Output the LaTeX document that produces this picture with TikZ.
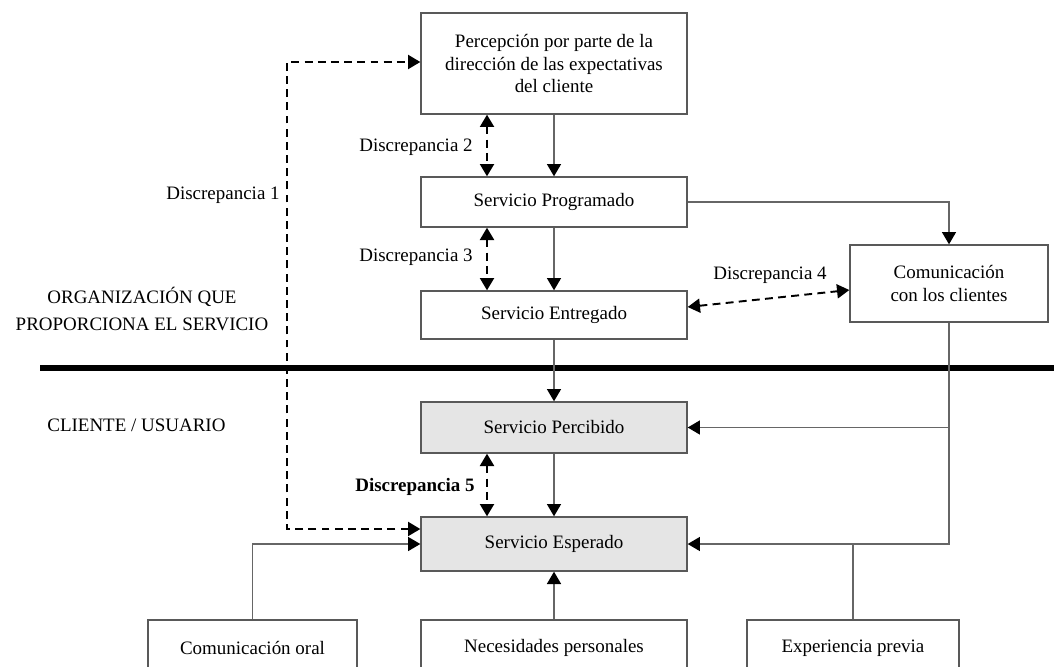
\documentclass[tikz,border=0pt]{standalone}
\usepackage{fontspec}
\setmainfont{Liberation Serif}
\usetikzlibrary{arrows.meta}
\begin{document}
\begin{tikzpicture}[x=0.02cm,y=-0.02cm,>={Triangle[width=8pt,length=7pt,color=black]},
	caja/.style={draw=black!65,line width=.8pt,inner sep=0pt,align=center,
		font=\fontsize{10.8}{12.8}\selectfont,minimum width=5.32cm},
	cliente/.style={caja,fill=black!10},
	conn/.style={draw=black!60,line width=.8pt},
	disc/.style={black,line width=1.1pt,dash pattern=on 4.5pt off 3pt},
	rotulo/.style={font=\fontsize{10.8}{12.8}\selectfont,inner sep=0pt}]
	\useasboundingbox (0,0) rectangle (1054,666);
	% organizacion
	\node[caja,minimum height=2.02cm] (perc) at (554,63.5)
		{Percepción por parte de la\\dirección de las expectativas\\del cliente};
	\node[caja,minimum height=1cm] (prog) at (554,202) {Servicio Programado};
	\node[caja,minimum height=.96cm] (entr) at (554,315) {Servicio Entregado};
	\node[caja,minimum width=3.96cm,minimum height=1.54cm] (com) at (949,283.5)
		{Comunicación\\con los clientes};
	% cliente
	\node[cliente,minimum height=1.02cm] (perci) at (554,427.5) {Servicio Percibido};
	\node[cliente,minimum height=1.08cm] (esper) at (554,544) {Servicio Esperado};
	\node[caja,minimum width=4.18cm,minimum height=1.12cm] (oral) at (252.5,648) {Comunicación oral};
	\node[caja,minimum height=1.12cm] (neces) at (554,648) {Necesidades personales};
	\node[caja,minimum width=4.24cm,minimum height=1.12cm] (exper) at (853,648) {Experiencia previa};
	% rotulos
	\path[rotulo]
	(142,309) node[align=center,font=\fontsize{10.8}{15.9}\selectfont] (org)
		{ORGANIZACIÓN QUE\\PROPORCIONA EL SERVICIO}
	(47,425) node[anchor=west] (usu) {CLIENTE / USUARIO}
	(280,195) node[anchor=east] (d1) {Discrepancia 1}
	(473,147) node[anchor=east] (d2) {Discrepancia 2}
	(473,257) node[anchor=east] (d3) {Discrepancia 3}
	(770,275) node (d4) {Discrepancia 4}
	(475,487) node[anchor=east,font=\fontsize{10.8}{12.8}\selectfont\bfseries] (d5) {Discrepancia 5}
	;
	\draw[line width=3.5pt] (40,368) -- (1060,368);
	\coordinate (dx) at (487,0);
	\coordinate (dv) at (287,62);
	% flujo
	\draw[conn,->] (perc.south) -- (prog.north);
	\draw[conn,->] (prog.south) -- (entr.north);
	\draw[conn,->] (entr.south) -- (perci.north);
	\draw[conn,->] (perci.south) -- (esper.north);
	\draw[conn,->] (prog.east) -| (com.north);
	\draw[conn,->] (com.south) |- (esper.east);
	\draw[conn,->] (com.south |- perci.east) -- (perci.east);
	\draw[conn] (exper.north) -- (exper.north |- esper.east);
	\draw[conn,->] (oral.north) |- (esper.west);
	\draw[conn,->] (neces.north) -- (esper.south);
	% discrepancias
	\draw[disc,<->] (esper.west |- 0,529) -| (dv) -- (perc.west |- dv);
	\draw[disc,<->] (dx |- perc.south) -- (dx |- prog.north);
	\draw[disc,<->] (dx |- prog.south) -- (dx |- entr.north);
	\draw[disc,<->] (dx |- perci.south) -- (dx |- esper.north);
	\draw[disc,<->] (entr.east |- 0,307) -- (com.west |- 0,290);
\end{tikzpicture}
\end{document}
